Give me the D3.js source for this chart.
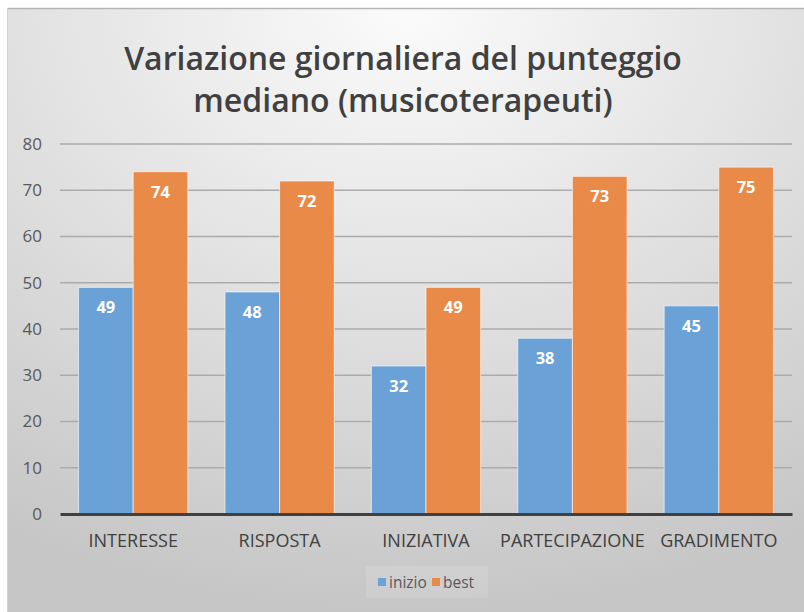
<!DOCTYPE html>
<html>
<head>
<meta charset="utf-8">
<script src="https://cdn.jsdelivr.net/npm/d3@7"></script>
<style>
  body { margin: 0; background: #fff; }
  svg { display: block; font-family: "Open Sans", sans-serif; }
</style>
</head>
<body>
<div id="chart"></div>
<script>
// chart data
const categories = ["INTERESSE", "RISPOSTA", "INIZIATIVA", "PARTECIPAZIONE", "GRADIMENTO"];
const seriesNames = ["inizio", "best"];
const inizio = [49, 48, 32, 38, 45];
const best = [74, 72, 49, 73, 75];
const yTicks = [0, 10, 20, 30, 40, 50, 60, 70, 80];
const titleLines = ["Variazione giornaliera del punteggio", "mediano (musicoterapeuti)"];

const width = 804;
const height = 612;
const margin = { left: 60, right: 12, top: 144, bottom: 98 };
const colors = { inizio: "#6aa1d6", best: "#ea8a48" };

const svg = d3.select("#chart")
  .append("svg")
  .attr("width", width)
  .attr("height", height);

// background gradient like the office chart area
const defs = svg.append("defs");
const grad = defs.append("radialGradient")
  .attr("id", "bg")
  .attr("cx", "50%").attr("cy", "0%")
  .attr("r", "100%")
  .attr("gradientUnits", "objectBoundingBox");
grad.append("stop").attr("offset", "0%").attr("stop-color", "#fbfbfb");
grad.append("stop").attr("offset", "55%").attr("stop-color", "#dedede");
grad.append("stop").attr("offset", "100%").attr("stop-color", "#c6c6c6");

svg.append("rect")
  .attr("x", 8).attr("y", 9)
  .attr("width", width - 8).attr("height", height - 9)
  .attr("fill", "url(#bg)");
svg.append("line")
  .attr("x1", 8).attr("x2", width).attr("y1", 8.5).attr("y2", 8.5)
  .attr("stroke", "#b4b4b4").attr("stroke-width", 1.5);
svg.append("line")
  .attr("x1", 7.5).attr("x2", 7.5).attr("y1", 8).attr("y2", height)
  .attr("stroke", "#d0d0d0").attr("stroke-width", 1);

// title
svg.append("g")
  .selectAll("text")
  .data(titleLines)
  .enter()
  .append("text")
  .attr("x", 403)
  .attr("y", (d, i) => 70 + i * 42)
  .attr("text-anchor", "middle")
  .attr("font-size", "32px")
  .attr("font-weight", 600)
  .attr("fill", "#404040")
  .text(d => d);

// scales
const yScale = d3.scaleLinear()
  .domain([0, 80])
  .range([height - margin.bottom, margin.top]);

const x0 = d3.scaleBand()
  .domain(categories)
  .range([margin.left, width - margin.right]);

const x1 = d3.scaleBand()
  .domain(seriesNames)
  .range([0, x0.bandwidth()])
  .paddingOuter(0.34);

// gridlines
svg.append("g")
  .selectAll("line")
  .data(yTicks.filter(t => t > 0))
  .enter()
  .append("line")
  .attr("x1", margin.left)
  .attr("x2", width - margin.right)
  .attr("y1", d => yScale(d))
  .attr("y2", d => yScale(d))
  .attr("stroke", "#ababab")
  .attr("stroke-width", 1.5);

// y axis labels
const yAxis = svg.append("g")
  .attr("transform", `translate(${margin.left - 15}, 0)`)
  .call(d3.axisLeft(yScale).tickValues(yTicks).tickSize(0));
yAxis.select(".domain").remove();
yAxis.selectAll("text")
  .attr("font-size", "17px")
  .attr("fill", "#595959")
  .attr("font-family", "Open Sans, sans-serif");

// bars
const rows = categories.map((c, i) => ({ cat: c, values: [
  { key: "inizio", value: inizio[i] },
  { key: "best", value: best[i] }
] }));

const groups = svg.append("g")
  .selectAll("g")
  .data(rows)
  .enter()
  .append("g")
  .attr("transform", d => `translate(${x0(d.cat)}, 0)`);

groups.selectAll("rect")
  .data(d => d.values)
  .enter()
  .append("rect")
  .attr("x", d => x1(d.key))
  .attr("y", d => yScale(d.value))
  .attr("width", x1.bandwidth())
  .attr("height", d => yScale(0) - yScale(d.value))
  .attr("fill", d => colors[d.key])
  .attr("stroke", "#ffffff")
  .attr("stroke-opacity", 0.6)
  .attr("stroke-width", 1);

groups.selectAll("text")
  .data(d => d.values)
  .enter()
  .append("text")
  .attr("x", d => x1(d.key) + x1.bandwidth() / 2)
  .attr("y", d => yScale(d.value) + 26)
  .attr("text-anchor", "middle")
  .attr("font-size", "16.5px")
  .attr("font-weight", 700)
  .attr("fill", "#ffffff")
  .text(d => d.value);

// x axis
const xAxis = svg.append("g")
  .attr("transform", `translate(0, ${yScale(0)})`)
  .call(d3.axisBottom(x0).tickSize(0).tickPadding(20));
xAxis.select(".domain")
  .attr("stroke", "#404040")
  .attr("stroke-width", 3);
xAxis.selectAll("text")
  .attr("font-size", "18px")
  .attr("fill", "#404040")
  .attr("font-family", "Open Sans, sans-serif");

// legend
const legend = svg.append("g").attr("transform", "translate(366, 566)");
legend.append("rect")
  .attr("width", 122).attr("height", 32)
  .attr("fill", "#ffffff").attr("fill-opacity", 0.12);
const legendX = [12, 66];
seriesNames.forEach((s, i) => {
  legend.append("rect")
    .attr("x", legendX[i]).attr("y", 12)
    .attr("width", 8).attr("height", 8)
    .attr("fill", colors[s]);
  legend.append("text")
    .attr("x", legendX[i] + 11).attr("y", 22)
    .attr("font-size", "15.5px")
    .attr("fill", "#595959")
    .text(s);
});
</script>
</body>
</html>
